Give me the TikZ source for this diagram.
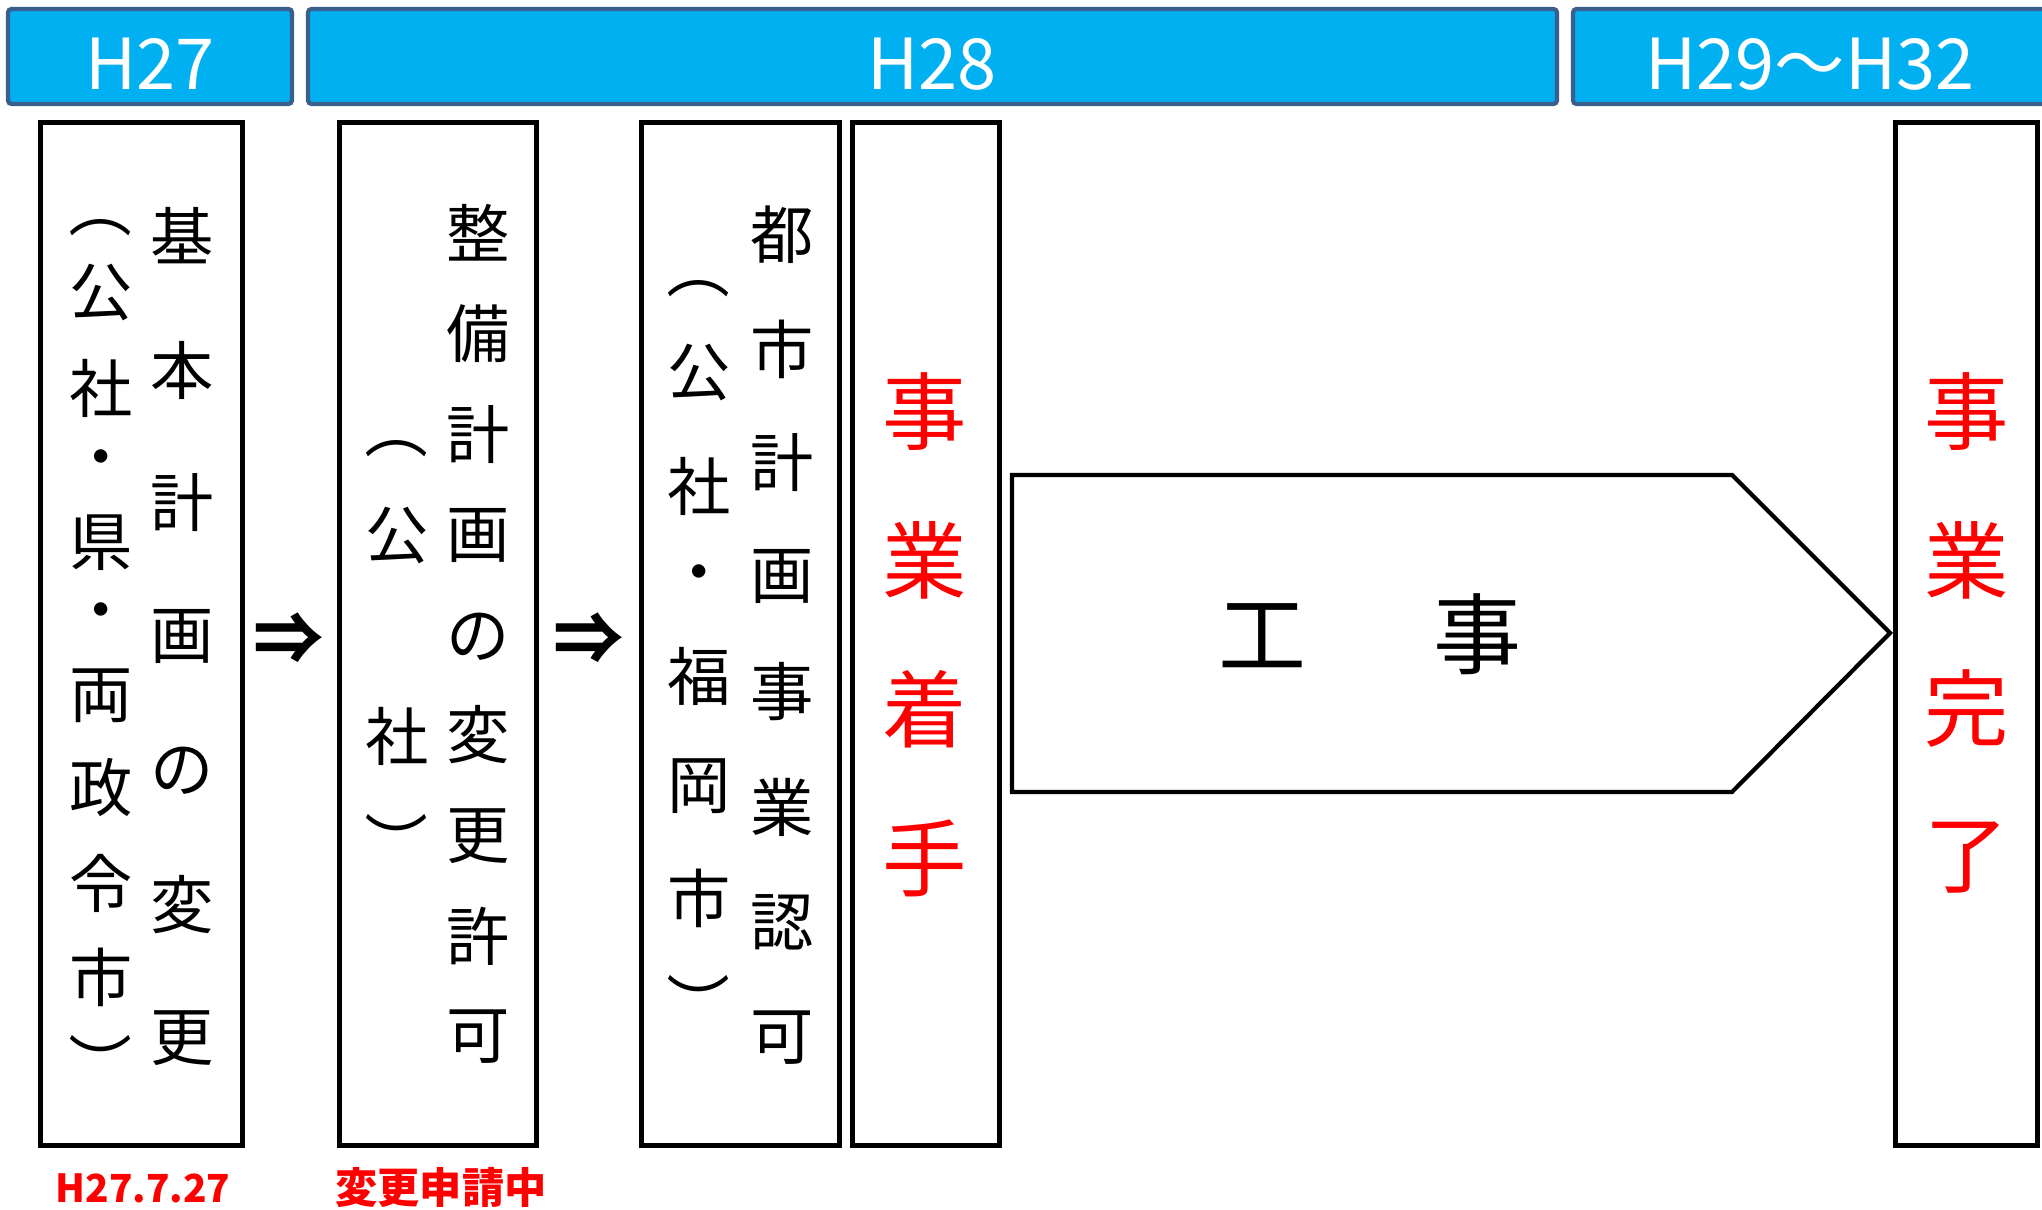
\documentclass[tikz,border=0pt]{standalone}
\usepackage{fontspec}
\setmainfont{Noto Sans CJK JP}
\definecolor{barfill}{HTML}{00B0F0}
\definecolor{barline}{HTML}{3A5F8C}
\definecolor{jred}{HTML}{FF0000}
\begin{document}
\begin{tikzpicture}[x=0.01cm, y=-0.01cm,
    bar/.style={draw=barline, fill=barfill, line width=1.2pt, rounded corners=1pt},
    box/.style={draw=black, line width=1.45pt},
    yr/.style={text=white, font=\fontsize{20}{20}\selectfont, anchor=base, inner sep=0pt},
    ch/.style={font=\fontsize{18}{18}\selectfont, inner sep=0pt},
    paren/.style={ch, rotate=-90},
    bigch/.style={text=jred, font=\fontsize{24}{24}\selectfont, inner sep=0pt},
    note/.style={text=jred, font=\bfseries\fontsize{12}{12}\selectfont, inner sep=0pt}]
    \useasboundingbox (0,0) rectangle (2042,1210);
    \draw[bar] (8,9) rectangle (292,104);
    \draw[bar] (308,9) rectangle (1557,104);
    \draw[bar] (1573,9) rectangle (2060,104);
    \node[yr] (h27) at (150,90) {H27};
    \node[yr] (h28) at (932,90) {H28};
    \node[yr] (h29) at (1810,90) {H29～H32};
    \draw[box] (40.5,122.5) rectangle (242.5,1145.5);
    \draw[box] (339.5,122.5) rectangle (536.5,1145.5);
    \draw[box] (641.5,122.5) rectangle (839.5,1145.5);
    \draw[box] (852.5,122.5) rectangle (999.5,1145.5);
    \draw[box] (1895.5,122.5) rectangle (2037.5,1145.5);
    \draw[line width=1.2pt] (1012,475) -- (1732,475) -- (1890,633) -- (1732,792) -- (1012,792) -- cycle;
    \foreach \c/\y [count=\i] in {基/236,本/370,計/503,画/637,の/771,変/905,更/1038}
        \node[ch] (kihon-\i) at (182,\y) {\c};
    \node[paren] (kihon-open) at (101,207) {（};
    \foreach \c/\y [count=\i] in {公/293,社/388,・/465,県/543,・/618,両/696,政/788,令/883,市/977}
        \node[ch] (kihon-by-\i) at (101,\y) {\c};
    \node[paren] (kihon-close) at (101,1064) {）};
    \foreach \c/\y [count=\i] in {整/233,備/334,計/435,画/536,の/637,変/735,更/836,許/936,可/1037}
        \node[ch] (seibi-\i) at (478,\y) {\c};
    \node[paren] (seibi-open) at (397,428) {（};
    \node[ch] (seibi-by-1) at (397,536) {公};
    \node[ch] (seibi-by-2) at (397,736) {社};
    \node[paren] (seibi-close) at (397,843) {）};
    \foreach \c/\y [count=\i] in {都/235,市/349,計/463,画/577,事/692,業/807,認/922,可/1038}
        \node[ch] (toshi-\i) at (782,\y) {\c};
    \node[paren] (toshi-open) at (699,268) {（};
    \foreach \c/\y [count=\i] in {公/373,社/486,・/580,福/676,岡/786,市/898}
        \node[ch] (toshi-by-\i) at (699,\y) {\c};
    \node[paren] (toshi-close) at (699,1004) {）};
    \foreach \c/\y [count=\i] in {事/412,業/560,着/709,手/858}
        \node[bigch] (start-\i) at (925,\y) {\c};
    \foreach \c/\y [count=\i] in {事/412,業/560,完/709,了/858}
        \node[bigch] (done-\i) at (1967,\y) {\c};
    \node[ch, font=\bfseries\fontsize{20}{20}\selectfont] (then-a) at (289,639) {⇒};
    \node[ch, font=\bfseries\fontsize{20}{20}\selectfont] (then-b) at (589,639) {⇒};
    \node[ch, font=\fontsize{25}{25}\selectfont] (works) at (1370,634) {工\hspace{1.45em}事};
    \node[note, font=\bfseries\fontsize{11}{11}\selectfont] (date) at (143,1188) {H27.7.27};
    \node[note] (status) at (441,1188) {変更申請中};
\end{tikzpicture}
\end{document}
